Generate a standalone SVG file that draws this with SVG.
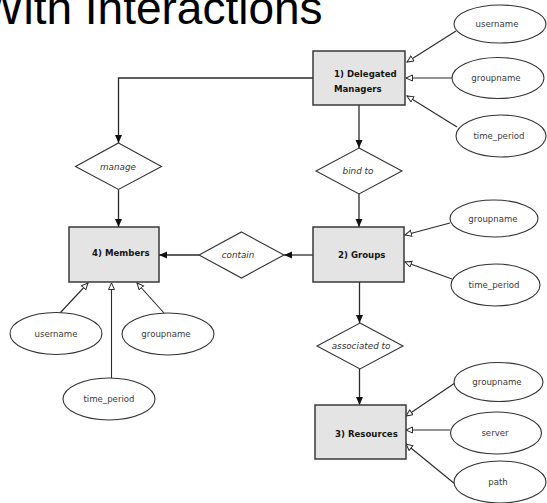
<svg xmlns="http://www.w3.org/2000/svg" width="547" height="503" viewBox="0 0 547 503">
  <style>
    .title { font-family: "Liberation Sans", Arial, sans-serif; font-size: 46px; fill: #000; }
    .entity rect { fill: #e4e4e4; stroke: #3a3a3a; stroke-width: 1.5; }
    .entity text { font-family: "DejaVu Sans", sans-serif; font-weight: bold; font-size: 8.6px; fill: #151515; }
    .rel polygon { fill: #fff; stroke: #333; stroke-width: 1.1; }
    .rel text { font-family: "DejaVu Sans", sans-serif; font-style: italic; font-size: 8.8px; fill: #333; text-anchor: middle; }
    .attr ellipse { fill: #fff; stroke: #333; stroke-width: 1.1; }
    .attr text { font-family: "DejaVu Sans", sans-serif; font-size: 8.6px; fill: #3a3a3a; text-anchor: middle; }
    .flow { fill: none; stroke: #2a2a2a; stroke-width: 1.3; marker-end: url(#solid); }
    .link { fill: none; stroke: #2a2a2a; stroke-width: 1.1; marker-end: url(#hollow); }
  </style>
  <defs>
    <marker id="solid" markerUnits="userSpaceOnUse" markerWidth="9" markerHeight="8" refX="8" refY="3.5" orient="auto">
      <path d="M0,0 L8,3.5 L0,7 z" fill="#111"/>
    </marker>
    <marker id="hollow" markerUnits="userSpaceOnUse" markerWidth="9" markerHeight="9" refX="7" refY="3.5" orient="auto">
      <path d="M0.5,0.5 L7,3.5 L0.5,6.5 z" fill="#fff" stroke="#2a2a2a" stroke-width="1"/>
    </marker>
  </defs>

  <rect width="547" height="503" fill="#fff"/>

  <text class="title" x="-20" y="24">With Interactions</text>

  <g id="connectors">
    <path class="flow" d="M313,78 H118.5 V143"/>
    <path class="flow" d="M118.5,189.5 V227"/>
    <path class="flow" d="M359,105 V148"/>
    <path class="flow" d="M359,194 V227"/>
    <path class="flow" d="M313,255 H284"/>
    <path class="flow" d="M199,255 H159" stroke-width="2"/>
    <path class="flow" d="M359.5,282 V323"/>
    <path class="flow" d="M359.5,369 V405"/>

    <path class="link" d="M456,31 L407,62"/>
    <path class="link" d="M452,78 L406,78"/>
    <path class="link" d="M457,127 L407,96"/>
    <path class="link" d="M450,223 L405,235"/>
    <path class="link" d="M452,279 L405,262"/>
    <path class="link" d="M455,383 L406,416"/>
    <path class="link" d="M450,430 L406,430"/>
    <path class="link" d="M455,484 L406,444"/>
    <path class="link" d="M60,313 L88,283"/>
    <path class="link" d="M111.5,378 V283"/>
    <path class="link" d="M164,313 L137,283"/>
  </g>

  <g id="delegated-managers" class="entity">
    <rect x="313" y="51" width="92" height="54"/>
    <text x="334" y="77">1) Delegated</text>
    <text x="334" y="92">Managers</text>
  </g>
  <g id="groups" class="entity">
    <rect x="313" y="227" width="91" height="55"/>
    <text x="338" y="258">2) Groups</text>
  </g>
  <g id="resources" class="entity">
    <rect x="315" y="405" width="91" height="54"/>
    <text x="335" y="437">3) Resources</text>
  </g>
  <g id="members" class="entity">
    <rect x="69" y="227" width="90" height="55"/>
    <text x="92" y="256">4) Members</text>
  </g>

  <g id="manage" class="rel">
    <polygon points="118.5,143 161.5,166.5 118.5,189.5 75.5,166.5"/>
    <text x="118" y="170">manage</text>
  </g>
  <g id="bind-to" class="rel">
    <polygon points="359,148 402,171 359,194 316,171"/>
    <text x="358" y="174">bind to</text>
  </g>
  <g id="contain" class="rel">
    <polygon points="241.5,232 284,255 241.5,278 199,255"/>
    <text x="238" y="258">contain</text>
  </g>
  <g id="associated-to" class="rel">
    <polygon points="360,323 403,346 360,369 317,346"/>
    <text x="361" y="349">associated to</text>
  </g>

  <g id="dm-username" class="attr">
    <ellipse cx="500" cy="24" rx="46" ry="19"/>
    <text x="497" y="27">username</text>
  </g>
  <g id="dm-groupname" class="attr">
    <ellipse cx="498" cy="78" rx="46" ry="20.5"/>
    <text x="496" y="81">groupname</text>
  </g>
  <g id="dm-time-period" class="attr">
    <ellipse cx="501" cy="136" rx="45" ry="21"/>
    <text x="499" y="139">time_period</text>
  </g>

  <g id="g-groupname" class="attr">
    <ellipse cx="494" cy="218.5" rx="44" ry="18.5"/>
    <text x="493" y="221.5">groupname</text>
  </g>
  <g id="g-time-period" class="attr">
    <ellipse cx="495.5" cy="285" rx="44.5" ry="21"/>
    <text x="494" y="288">time_period</text>
  </g>

  <g id="r-groupname" class="attr">
    <ellipse cx="498.5" cy="382" rx="44.5" ry="19.5"/>
    <text x="497" y="385">groupname</text>
  </g>
  <g id="r-server" class="attr">
    <ellipse cx="496" cy="433" rx="45.5" ry="21"/>
    <text x="495" y="436">server</text>
  </g>
  <g id="r-path" class="attr">
    <ellipse cx="500" cy="482" rx="46" ry="21"/>
    <text x="498" y="485">path</text>
  </g>

  <g id="m-username" class="attr">
    <ellipse cx="56" cy="333.5" rx="46" ry="21"/>
    <text x="56" y="336.5">username</text>
  </g>
  <g id="m-groupname" class="attr">
    <ellipse cx="168" cy="334" rx="46" ry="21"/>
    <text x="166" y="337">groupname</text>
  </g>
  <g id="m-time-period" class="attr">
    <ellipse cx="109" cy="399" rx="46" ry="21"/>
    <text x="109" y="402">time_period</text>
  </g>
</svg>
